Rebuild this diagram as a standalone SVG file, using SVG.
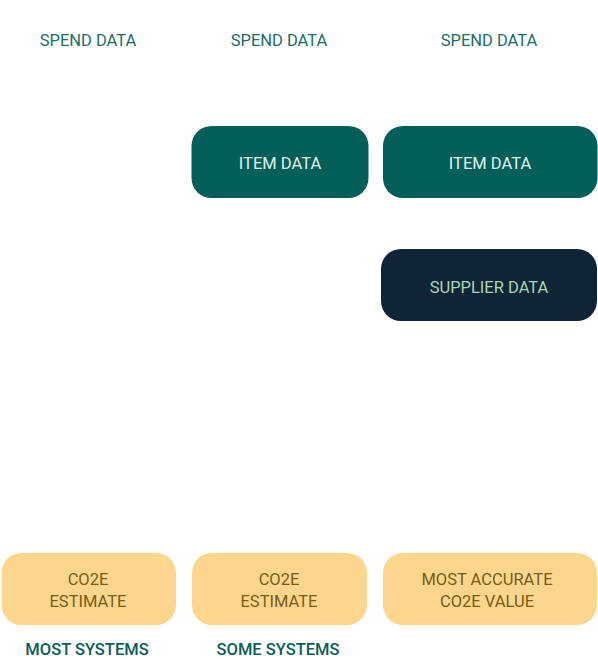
<svg xmlns="http://www.w3.org/2000/svg" width="598" height="660" viewBox="0 0 598 660">
<style>
text{font-family:Roboto,"Noto Sans",sans-serif;font-size:16.5px;text-anchor:middle}
.hdr{fill:#1b6e68}
.foot{fill:#0b5e59;font-weight:500}
.item{fill:#025e59}
.itemt{fill:#e4efec}
.sup{fill:#0f2437}
.supt{fill:#a9d6b3}
.res{fill:#fcd68d}
.rest{fill:#7b5b16}
</style>
<rect width="598" height="660" fill="#ffffff"/>
<g id="spend1"><text class="hdr" x="88" y="46">SPEND DATA</text></g>
<g id="spend2"><text class="hdr" x="279" y="46">SPEND DATA</text></g>
<g id="spend3"><text class="hdr" x="489" y="46">SPEND DATA</text></g>
<g id="item1"><rect class="item" x="191.5" y="126" width="177" height="72" rx="20"/><text class="itemt" x="280" y="169">ITEM DATA</text></g>
<g id="item2"><rect class="item" x="383" y="126" width="214.5" height="72" rx="20"/><text class="itemt" x="490" y="169">ITEM DATA</text></g>
<g id="supplier"><rect class="sup" x="381" y="249" width="216" height="72" rx="20"/><text class="supt" x="489" y="293">SUPPLIER DATA</text></g>
<g id="res1"><rect class="res" x="1.5" y="553" width="174.5" height="72" rx="20"/><text class="rest" x="88" y="585">CO2E</text><text class="rest" x="88" y="607">ESTIMATE</text></g>
<g id="res2"><rect class="res" x="192" y="553" width="175" height="72" rx="20"/><text class="rest" x="279" y="585">CO2E</text><text class="rest" x="279" y="607">ESTIMATE</text></g>
<g id="res3"><rect class="res" x="383" y="553" width="214" height="72" rx="20"/><text class="rest" x="487" y="585">MOST ACCURATE</text><text class="rest" x="487" y="607">CO2E VALUE</text></g>
<g id="foot1"><text class="foot" x="87" y="655">MOST SYSTEMS</text></g>
<g id="foot2"><text class="foot" x="278" y="655">SOME SYSTEMS</text></g>
<g id="connectors"></g>
</svg>
